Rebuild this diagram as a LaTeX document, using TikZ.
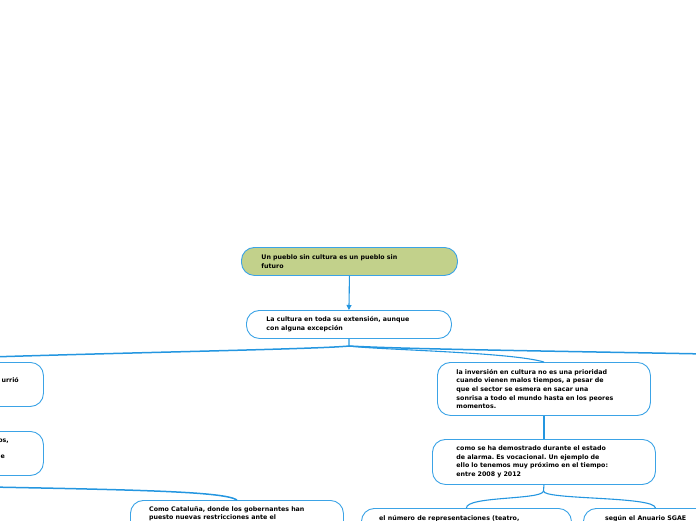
\documentclass[tikz,border=0pt]{standalone}
\usepackage{fontspec}
\setmainfont{DejaVu Sans}
\usetikzlibrary{arrows.meta}
\definecolor{bord}{RGB}{59,163,230}
\definecolor{link}{RGB}{36,150,224}
\definecolor{rootfill}{RGB}{194,209,139}
\tikzset{
  box/.style={draw=bord, line width=0.9pt, rounded corners=13pt, fill=white,
    inner ysep=0pt, anchor=north west, align=left,
    font=\fontsize{6.3}{8.6}\selectfont\bfseries\frenchspacing},
  txt/.style={inner sep=0pt, align=left, font=\fontsize{6.3}{8.6}\selectfont\bfseries\frenchspacing},
  conn/.style={draw=link, line width=1.1pt},
  heavy/.style={draw=link, line width=1.5pt},
}
\begin{document}
\begin{tikzpicture}[x=1pt,y=-1pt]
\useasboundingbox (0,0) rectangle (696,520);
% main nodes
\node[box, fill=rootfill, minimum width=216, minimum height=28, text width=176, inner xsep=20] (root) at (241,247)
  {Un pueblo sin cultura es un pueblo sin\\futuro};
\node[box, minimum width=205, minimum height=28, text width=165, inner xsep=20] (cult) at (246,310)
  {La cultura en toda su extensión, aunque\\con alguna excepción};
\node[box, minimum width=213, minimum height=53, text width=175, inner xsep=19] (inv) at (437,362)
  {la inversión en cultura no es una prioridad\\cuando vienen malos tiempos, a pesar de\\que el sector se esmera en sacar una\\sonrisa a todo el mundo hasta en los peores\\momentos.};
\node[box, minimum width=223, minimum height=45, text width=175, inner xsep=24] (como) at (432,439)
  {como se ha demostrado durante el estado\\de alarma. Es vocacional. Un ejemplo de\\ello lo tenemos muy próximo en el tiempo:\\entre 2008 y 2012};
% partly visible nodes
\node[box, minimum width=193, minimum height=44] (la) at (-150,362) {};
\node[txt, anchor=east] (lat) at (19,380) {urrió};
\node[box, minimum width=193, minimum height=44] (lb) at (-150,431) {};
\node[txt, anchor=east] (lbt1) at (9,441) {os,};
\node[txt, anchor=east] (lbt2) at (5,457) {e};
\node[box, minimum width=213, minimum height=44] (cat) at (130,500) {};
\node[txt, anchor=north west] (catt) at (149,506) {Como Cataluña, donde los gobernantes han\\puesto nuevas restricciones ante el};
\node[box, minimum width=210, minimum height=44] (num) at (361,508) {};
\node[txt, anchor=north west] (numt) at (379,515) {el número de representaciones (teatro,};
\node[box, minimum width=144, minimum height=44] (sg) at (583,508) {};
\node[txt, anchor=north west] (sgt) at (605,515) {según el Anuario SGAE};
% connectors
\draw[conn, -{Triangle[width=5pt,length=5pt]}] (root.south) -- (cult.north);
\coordinate (h1) at (349,346);
\coordinate (offl) at (-10,357);
\coordinate (offr) at (706,354);
\coordinate (offl2) at (-10,487);
\draw[conn] (cult.south) -- (h1);
\draw[heavy] (h1) .. controls (320,349) and (150,352) .. (offl);
\draw[heavy] (h1) .. controls (400,349) and (550,351) .. (offr);
\draw[conn] (h1) .. controls (380,350) and (510,352) .. (inv.north);
\draw[heavy] (offl2) .. controls (150,490) and (225,492) .. (cat.north);
\draw[conn] (inv.south) -- (como.north);
\coordinate (h2) at (543.5,491);
\draw[conn] (como.south) -- (h2);
\draw[conn] (h2) .. controls (543,500) and (466,496) .. (num.north);
\draw[conn] (h2) .. controls (543,500) and (655,496) .. (sg.north);
\end{tikzpicture}
\end{document}
